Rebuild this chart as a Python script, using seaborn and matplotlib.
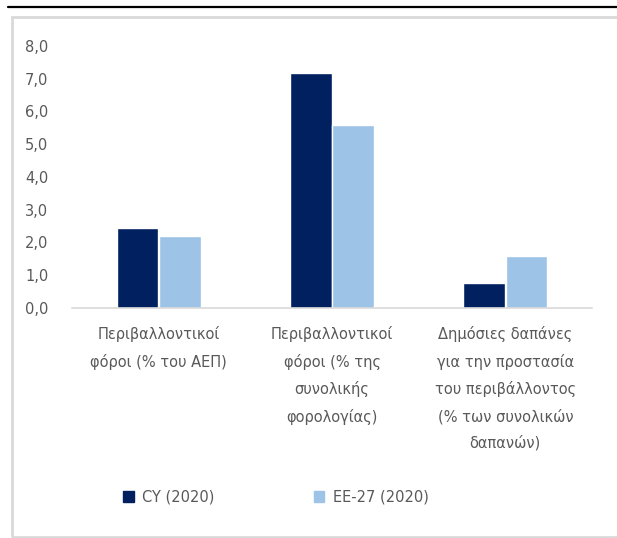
import matplotlib
matplotlib.use("Agg")
import matplotlib.pyplot as plt
import seaborn as sns
import pandas as pd
from matplotlib.patches import Rectangle
from matplotlib.lines import Line2D

categories = [
    "Περιβαλλοντικοί\nφόροι (% του ΑΕΠ)",
    "Περιβαλλοντικοί\nφόροι (% της\nσυνολικής\nφορολογίας)",
    "Δημόσιες δαπάνες\nγια την προστασία\nτου περιβάλλοντος\n(% των συνολικών\nδαπανών)",
]
series_names = ["CY (2020)", "ΕΕ-27 (2020)"]
cy_values = [2.45, 7.18, 0.75]
eu_values = [2.2, 5.58, 1.58]
yticks = [0, 1, 2, 3, 4, 5, 6, 7, 8]
ytick_labels = ["0,0", "1,0", "2,0", "3,0", "4,0", "5,0", "6,0", "7,0", "8,0"]
colors = ["#002060", "#9dc3e6"]

df = pd.DataFrame({
    "cat": categories * 2,
    "series": [series_names[0]] * 3 + [series_names[1]] * 3,
    "value": cy_values + eu_values,
})

sns.set_theme(style="white")
plt.rcParams["font.family"] = ["DejaVu Sans"]
text_color = "#595959"

W, H = 617, 538
fig = plt.figure(figsize=(W / 100, H / 100), dpi=100)
ax = fig.add_axes([72 / W, (H - 308) / H, (592 - 72) / W, (308 - 46) / H])

sns.barplot(data=df, x="cat", y="value", hue="series", palette=colors,
            width=0.49, gap=0.02, ax=ax, legend=False, saturation=1)

ax.set_ylim(0, 8)
ax.set_xlim(-0.5, 2.5)
ax.set_yticks(yticks)
ax.set_yticklabels(ytick_labels, fontsize=10.5, color=text_color)
ax.set_xticks(range(3))
ax.set_xticklabels(categories, fontsize=10.5, color=text_color, linespacing=1.9, va="top")
ax.tick_params(axis="y", length=0, pad=17)
ax.tick_params(axis="x", length=0, pad=13)
ax.set_xlabel("")
ax.set_ylabel("")
for s in ["top", "right", "left"]:
    ax.spines[s].set_visible(False)
ax.spines["bottom"].set_color("#d9d9d9")
ax.spines["bottom"].set_linewidth(1.2)

# frame decorations
fig.add_artist(Line2D([8 / W, 1.0], [1 - 7 / H, 1 - 7 / H], color="black", lw=1.6,
                      transform=fig.transFigure))
fig.add_artist(Rectangle((12 / W, 1 / H), (W + 5 - 12) / W, (H - 17 - 1) / H,
                         transform=fig.transFigure, fill=False,
                         edgecolor="#d9d9d9", lw=2))

handles = [Rectangle((0, 0), 1, 1, color=c) for c in colors]
fig.legend(handles, series_names, loc="center", bbox_to_anchor=(276 / W, 1 - 497 / H),
           ncol=2, frameon=False, fontsize=10.5, labelcolor=text_color,
           handlelength=0.7, handleheight=0.7, columnspacing=6.8, handletextpad=0.6)

fig.savefig("out.png", dpi=100)
